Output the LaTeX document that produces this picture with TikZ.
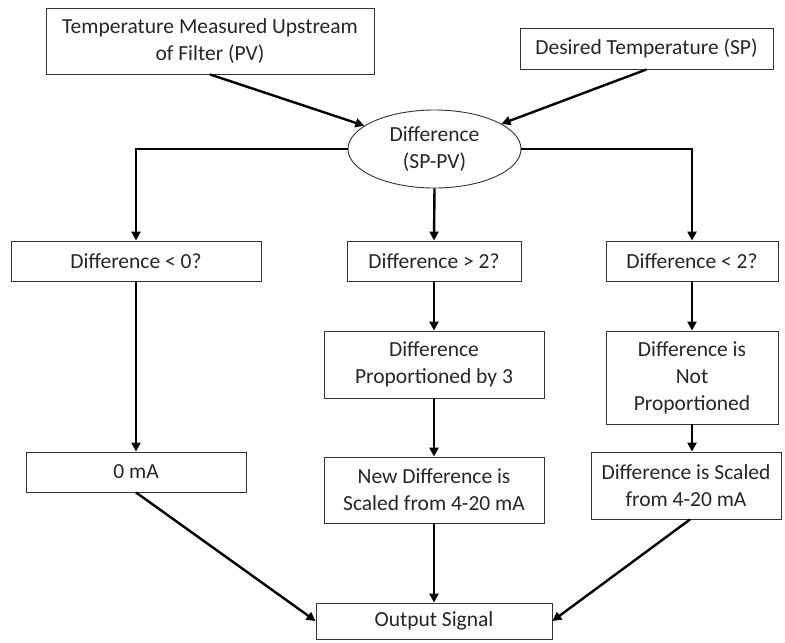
\documentclass[tikz,border=0pt]{standalone}
\usepackage{fontspec}
\setmainfont{Carlito}
\usetikzlibrary{arrows.meta,shapes.geometric}
\begin{document}
\begin{tikzpicture}[x=1pt,y=-1pt,
  box/.style={draw=black!80,line width=0.9pt,fill=white,align=center,
    inner sep=0pt,text=black!85,font=\fontsize{21.5}{27}\selectfont},
  oval/.style={box,ellipse},
  flow/.style={line width=2.4pt,-{Triangle[length=9pt,width=9pt]}}]
\useasboundingbox (0,0) rectangle (785,643);
% source boxes
\node[box,minimum width=328pt,minimum height=66pt] (pv) at (210,41)
  {Temperature Measured Upstream\\of Filter (PV)};
\node[box,minimum width=253pt,minimum height=41pt] (sp) at (646.5,48.5)
  {Desired Temperature (SP)};
\node[oval,minimum width=173pt,minimum height=78pt] (diff) at (434.5,149)
  {Difference\\(SP-PV)};
% decision row
\node[box,minimum width=250pt,minimum height=40pt] (lt0) at (136,261) {Difference < 0?};
\node[box,minimum width=174pt,minimum height=40pt] (gt2) at (434,261) {Difference > 2?};
\node[box,minimum width=172pt,minimum height=40pt] (lt2) at (692,261) {Difference < 2?};
% processing
\node[box,minimum width=220pt,minimum height=67pt] (prop) at (434,364.5)
  {Difference\\Proportioned by 3};
\node[box,minimum width=172pt,minimum height=93pt] (noprop) at (692,377.5)
  {Difference is\\Not\\Proportioned};
% outputs
\node[box,minimum width=220pt,minimum height=40pt] (zero) at (136,472) {0 mA};
\node[box,minimum width=220pt,minimum height=66pt] (newd) at (434,490)
  {New Difference is\\Scaled from 4-20 mA};
\node[box,minimum width=190pt,minimum height=67pt] (scal) at (686,485.5)
  {Difference is Scaled\\from 4-20 mA};
\node[box,minimum width=236pt,minimum height=36pt] (out) at (434,621) {Output Signal};
% connectors
\draw[flow] (pv.south) -- (diff);
\draw[flow] (sp.south) -- (diff);
\draw[flow] (diff.west) -| (lt0.north);
\draw[flow] (diff.south) -- (gt2.north);
\draw[flow] (diff.east) -| (lt2.north);
\draw[flow] (lt0.south) -- (zero.north);
\draw[flow] (gt2.south) -- (prop.north);
\draw[flow] (prop.south) -- (newd.north);
\draw[flow] (lt2.south) -- (noprop.north);
\draw[flow] (noprop.south) -- (noprop.south |- scal.north);
\draw[flow] (zero.south) -- (out.west);
\draw[flow] (newd.south) -- (out.north);
\draw[flow] ([xshift=4pt]scal.south) -- (out.east);
\end{tikzpicture}
\end{document}
